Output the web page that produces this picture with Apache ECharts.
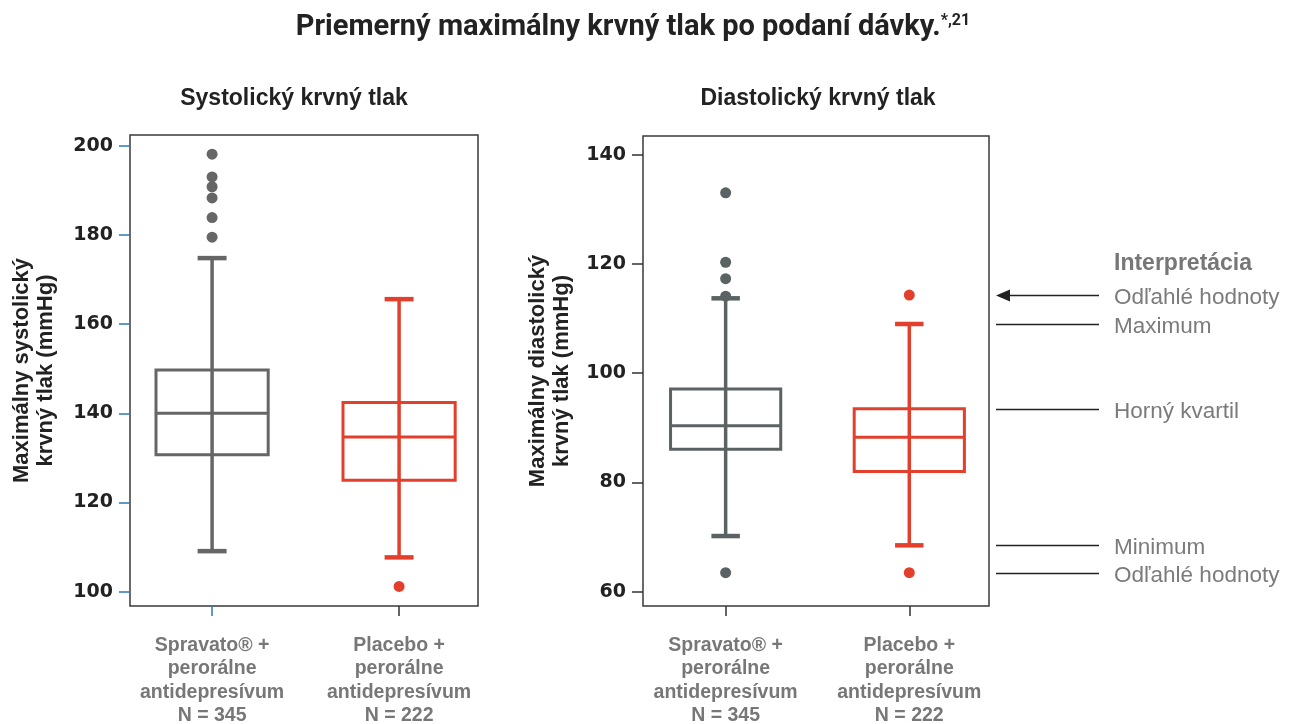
<!DOCTYPE html>
<html>
<head>
<meta charset="utf-8">
<script src="https://cdn.jsdelivr.net/npm/echarts@6/dist/echarts.min.js"></script>
<style>html,body{margin:0;padding:0;background:#fff}#c{width:1293px;height:724px}</style>
</head>
<body>
<div id="c"></div>
<script>
// ---------- data ----------
const categories = ['Spravato® +\nperorálne\nantidepresívum\nN = 345', 'Placebo +\nperorálne\nantidepresívum\nN = 222'];
// each box: [min, Q1, median, Q3, max]
const systolicBoxes = [[109.1, 130.7, 140.0, 149.7, 174.8], [107.7, 125.0, 134.7, 142.4, 165.6]];
const systolicOutliersSpravato = [198.1, 193.0, 190.8, 188.3, 183.9, 179.5];
const systolicOutliersPlacebo = [101.2];
const diastolicBoxes = [[70.2, 86.1, 90.4, 97.1, 113.7], [68.5, 82.0, 88.3, 93.5, 109.0]];
const diastolicOutliersSpravato = [133.0, 120.3, 117.3, 114.1, 63.5];
const diastolicOutliersPlacebo = [114.3, 63.5];
const systolicTicks = [100, 120, 140, 160, 180, 200];
const diastolicTicks = [60, 80, 100, 120, 140];
const legendTitle = 'Interpretácia';
const legendLabels = ['Odľahlé hodnoty', 'Maximum', 'Horný kvartil', 'Minimum', 'Odľahlé hodnoty'];

// ---------- styles ----------
const GRAY_L = '#666666', GRAY_R = '#5b6263', RED = '#e2402d';
const BLUE_TICK = '#2a7ab8';
const FONT = '"Liberation Sans", Arial, sans-serif';

function boxData(boxes) { return boxes.map((b, i) => [i + 1].concat(b)); }
function outData(vals, x) { return vals.map(v => [x, v]); }

function makeRender(colors) {
  return function (params, api) {
    const x = api.value(0);
    const v = [1, 2, 3, 4, 5].map(i => api.value(i));
    const p = v.map(val => api.coord([x, val]));
    const unit = api.size([1, 0])[0];
    const bw = unit * 0.6, cw = unit * 0.155;
    const cx = p[0][0];
    const color = colors[params.dataIndex];
    return {
      type: 'group',
      children: [
        { type: 'line', shape: { x1: cx, y1: p[4][1], x2: cx, y2: p[0][1] }, style: { stroke: color, lineWidth: 3.5 } },
        { type: 'rect', shape: { x: cx - bw / 2, y: p[3][1], width: bw, height: p[1][1] - p[3][1] }, style: { fill: 'none', stroke: color, lineWidth: 3 } },
        { type: 'line', shape: { x1: cx - bw / 2, y1: p[2][1], x2: cx + bw / 2, y2: p[2][1] }, style: { stroke: color, lineWidth: 3 } },
        { type: 'line', shape: { x1: cx - cw / 2, y1: p[4][1], x2: cx + cw / 2, y2: p[4][1] }, style: { stroke: color, lineWidth: 4.5 } },
        { type: 'line', shape: { x1: cx - cw / 2, y1: p[0][1], x2: cx + cw / 2, y2: p[0][1] }, style: { stroke: color, lineWidth: 4.5 } }
      ]
    };
  };
}

const xLabel = {
  customValues: [1, 2],
  formatter: v => categories[Math.round(v) - 1],
  fontFamily: FONT, fontWeight: 'bold', fontSize: 19.5, lineHeight: 23.3,
  color: '#777777', margin: 28
};
const yLabel = { fontFamily: '"DejaVu Sans", sans-serif', fontWeight: 'bold', fontSize: 19, color: '#222', margin: 17 };
const yName = { fontFamily: FONT, fontWeight: 'bold', fontSize: 22, lineHeight: 24, color: '#222' };

const chart = echarts.init(document.getElementById('c'), null, { renderer: 'canvas' });
chart.setOption({
  animation: false,
  backgroundColor: '#fff',
  title: [
    {
      text: '{a|Priemerný maximálny krvný tlak po podaní dávky.}{s|*,21}',
      left: 628, top: 8, textAlign: 'center',
      textStyle: { rich: {
        a: { fontFamily: 'Roboto, sans-serif', fontWeight: 'bold', fontSize: 29, color: '#222' },
        s: { fontFamily: 'Roboto, sans-serif', fontWeight: 'bold', fontSize: 16, color: '#222', verticalAlign: 'top', padding: [0, 0, 12, 0] }
      } }
    },
    { text: 'Systolický krvný tlak', left: 289, top: 82, textAlign: 'center',
      textStyle: { fontFamily: FONT, fontWeight: 'bold', fontSize: 23, color: '#222' } },
    { text: 'Diastolický krvný tlak', left: 813, top: 82, textAlign: 'center',
      textStyle: { fontFamily: FONT, fontWeight: 'bold', fontSize: 23, color: '#222' } }
  ],
  grid: [
    { left: 130, top: 135, width: 348, height: 471, show: true, borderColor: '#3a3a3a', borderWidth: 1.5, backgroundColor: 'transparent', outerBoundsMode: 'none', containLabel: false },
    { left: 643, top: 136, width: 346, height: 470, show: true, borderColor: '#3a3a3a', borderWidth: 1.5, backgroundColor: 'transparent', outerBoundsMode: 'none', containLabel: false }
  ],
  xAxis: [
    { type: 'value', gridIndex: 0, position: 'bottom', min: 0.561, max: 2.422, axisLine: { show: false }, splitLine: { show: false },
      axisTick: { show: true, customValues: [1], length: 10, lineStyle: { color: BLUE_TICK, width: 1.5 } },
      axisLabel: xLabel },
    { type: 'value', gridIndex: 0, position: 'bottom', min: 0.561, max: 2.422, axisLine: { show: false }, splitLine: { show: false },
      axisTick: { show: true, customValues: [2], length: 10, lineStyle: { color: '#333', width: 1.5 } },
      axisLabel: { show: false } },
    { type: 'value', gridIndex: 1, position: 'bottom', min: 0.550, max: 2.434, axisLine: { show: false }, splitLine: { show: false },
      axisTick: { show: true, customValues: [1, 2], length: 10, lineStyle: { color: '#333', width: 1.5 } },
      axisLabel: xLabel }
  ],
  yAxis: [
    { type: 'value', gridIndex: 0, min: 96.8, max: 202.4,
      name: 'Maximálny systolický\nkrvný tlak (mmHg)', nameLocation: 'middle', nameGap: 72, nameTextStyle: yName,
      axisLine: { show: false }, splitLine: { show: false },
      axisTick: { show: true, customValues: systolicTicks, length: 11, lineStyle: { color: BLUE_TICK, width: 1.5 } },
      axisLabel: Object.assign({ customValues: systolicTicks }, yLabel) },
    { type: 'value', gridIndex: 1, min: 57.4, max: 143.4,
      name: 'Maximálny diastolický\nkrvný tlak (mmHg)', nameLocation: 'middle', nameGap: 69, nameTextStyle: yName,
      axisLine: { show: false }, splitLine: { show: false },
      axisTick: { show: true, customValues: diastolicTicks, length: 11, lineStyle: { color: '#333', width: 1.5 } },
      axisLabel: Object.assign({ customValues: diastolicTicks }, yLabel) }
  ],
  series: [
    { type: 'scatter', xAxisIndex: 0, yAxisIndex: 0, data: outData(systolicOutliersSpravato, 1), symbolSize: 11, itemStyle: { color: GRAY_L, opacity: 1 }, z: 2 },
    { type: 'scatter', xAxisIndex: 0, yAxisIndex: 0, data: outData(systolicOutliersPlacebo, 2), symbolSize: 11, itemStyle: { color: RED, opacity: 1 }, z: 2 },
    { type: 'custom', xAxisIndex: 0, yAxisIndex: 0, data: boxData(systolicBoxes), renderItem: makeRender([GRAY_L, RED]),
      encode: { x: 0, y: [1, 2, 3, 4, 5] }, z: 3 },
    { type: 'scatter', xAxisIndex: 2, yAxisIndex: 1, data: outData(diastolicOutliersSpravato, 1), symbolSize: 11, itemStyle: { color: GRAY_R, opacity: 1 }, z: 2 },
    { type: 'scatter', xAxisIndex: 2, yAxisIndex: 1, data: outData(diastolicOutliersPlacebo, 2), symbolSize: 11, itemStyle: { color: RED, opacity: 1 }, z: 2 },
    { type: 'custom', xAxisIndex: 2, yAxisIndex: 1, data: boxData(diastolicBoxes), renderItem: makeRender([GRAY_R, RED]),
      encode: { x: 0, y: [1, 2, 3, 4, 5] }, z: 3 }
  ]
});

// ---------- interpretation key, aligned with the placebo diastolic box ----------
const pb = diastolicBoxes[1];
const legendValues = [diastolicOutliersPlacebo[0], pb[4], pb[3], pb[0], diastolicOutliersPlacebo[1]];
const g = [];
const lx1 = 996, lx2 = 1099, tx = 1114;
const firstY = chart.convertToPixel({ yAxisIndex: 1 }, legendValues[0]);
g.push({ type: 'text', x: tx, y: firstY - 31,
  style: { text: legendTitle, fontFamily: FONT, fontWeight: 'bold', fontSize: 23, fill: '#777', verticalAlign: 'middle' } });
legendValues.forEach((v, i) => {
  const y = Math.round(chart.convertToPixel({ yAxisIndex: 1 }, v)) + 0.5;
  g.push({ type: 'line', shape: { x1: i === 0 ? lx1 + 10 : lx1, y1: y, x2: lx2, y2: y }, style: { stroke: '#222', lineWidth: 1.3 } });
  if (i === 0) {
    g.push({ type: 'polygon', shape: { points: [[lx1, y], [lx1 + 14, y - 6], [lx1 + 14, y + 6]] }, style: { fill: '#222' } });
  }
  g.push({ type: 'text', x: tx, y: y + 2,
    style: { text: legendLabels[i], fontFamily: FONT, fontSize: 22.5, fill: '#7b7b7b', verticalAlign: 'middle' } });
});
chart.setOption({ graphic: g });
</script>
</body>
</html>
